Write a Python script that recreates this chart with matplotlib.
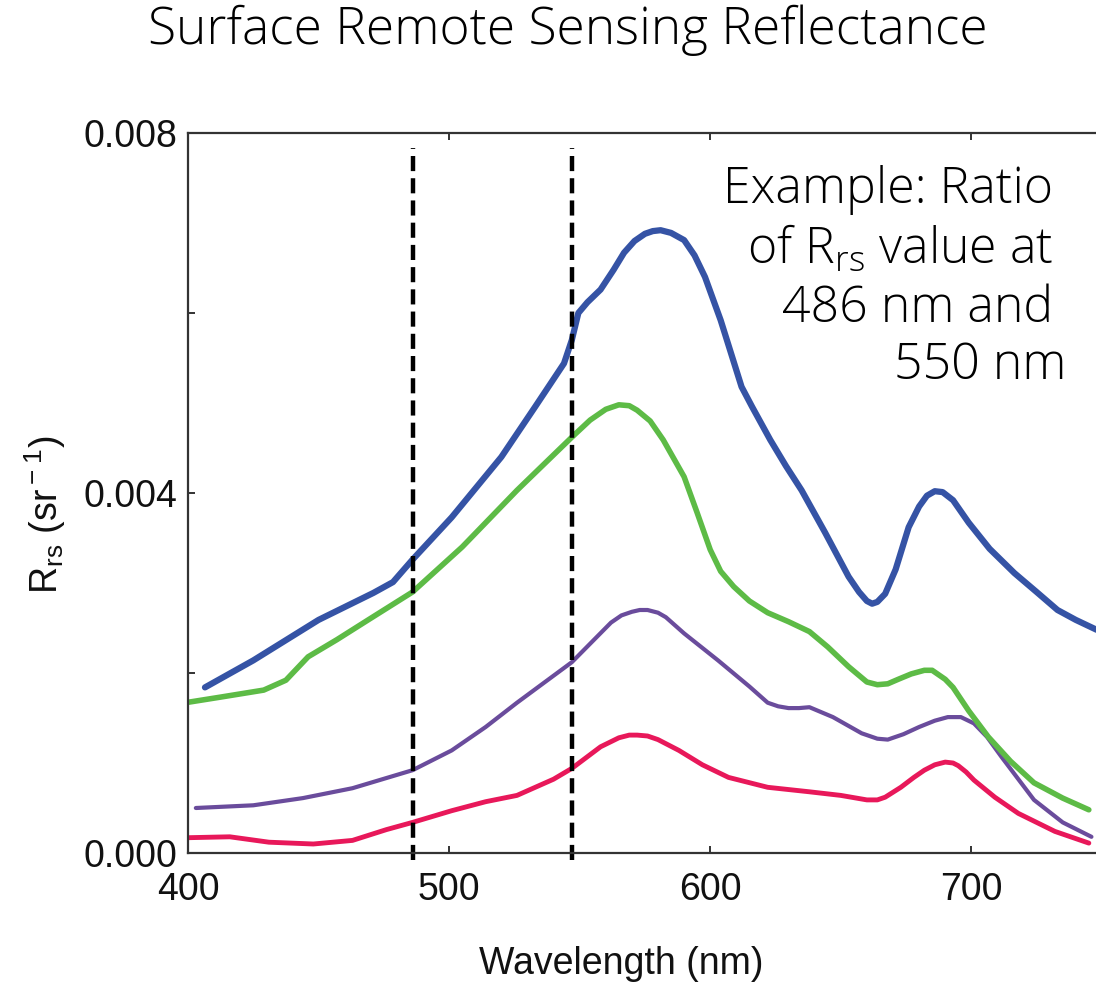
import numpy as np
import matplotlib
matplotlib.use('Agg')
import matplotlib.pyplot as plt

matplotlib.rcParams['font.family'] = ['Liberation Sans', 'DejaVu Sans']
matplotlib.rcParams['mathtext.fontset'] = 'custom'
matplotlib.rcParams['mathtext.rm'] = 'Liberation Sans'
matplotlib.rcParams['mathtext.sf'] = 'Open Sans:light'

# values (wavelength nm, Rrs sr^-1)
blue_x = [406.5, 425, 450, 471, 478.5, 486, 501, 520, 533, 544, 547, 549.5, 553, 558, 563,
          567, 571, 575, 578, 581, 585, 590, 594, 598, 604, 612, 616, 623, 629, 635, 644,
          653, 657, 660, 662, 664, 667, 671, 676, 680, 683, 686, 689, 693, 699, 707,
          716.5, 725, 733, 740, 748]
blue_y = [0.00184, 0.00214, 0.00259, 0.00289, 0.00301, 0.00326, 0.00373, 0.0044, 0.00496,
          0.00544, 0.0057, 0.006, 0.00612, 0.00626, 0.00648, 0.00667, 0.0068, 0.00688,
          0.00691, 0.00692, 0.00689, 0.00681, 0.00664, 0.0064, 0.00592, 0.00518, 0.00496,
          0.00459, 0.0043, 0.00403, 0.00356, 0.00307, 0.0029, 0.0028, 0.00277, 0.00279,
          0.00288, 0.00315, 0.00362, 0.00385, 0.00397, 0.00402, 0.00401, 0.00392, 0.00367,
          0.00338, 0.00311, 0.0029, 0.0027, 0.00259, 0.00248]

green_x = [399, 412, 429, 437.5, 446, 457, 469, 486, 505, 526, 547, 554, 560, 565, 569,
           572, 577, 582, 590, 595, 600, 604, 609, 615, 622, 630, 638, 645, 653, 660, 664,
           668, 672, 677, 682, 685, 687, 690, 693, 699, 706.5, 715, 724, 735, 745]
green_y = [0.00167, 0.00173, 0.00181, 0.00192, 0.00218, 0.00237, 0.00259, 0.0029, 0.0034,
           0.00403, 0.00462, 0.00481, 0.00493, 0.00498, 0.00497, 0.00492, 0.0048, 0.00459,
           0.00418, 0.00378, 0.00337, 0.00313, 0.00296, 0.0028, 0.00267, 0.00257, 0.00246,
           0.00229, 0.00207, 0.0019, 0.00187, 0.00188, 0.00193, 0.00199, 0.00203, 0.00203,
           0.00199, 0.00193, 0.00184, 0.00158, 0.00129, 0.00102, 0.00078, 0.00061, 0.00048]

purple_x = [403, 425, 444, 463, 486, 501, 514, 526, 547, 562, 566, 570, 573, 576, 580, 583,
            590, 603, 615, 622, 626, 630, 634, 638, 647, 658, 664, 668, 674, 680, 686, 691,
            696, 701, 706, 711.5, 718, 724, 735, 746]
purple_y = [0.0005, 0.00053, 0.00061, 0.00072, 0.00092, 0.00114, 0.0014, 0.00167, 0.00212,
            0.00256, 0.00264, 0.00268, 0.0027, 0.0027, 0.00267, 0.00262, 0.00244, 0.00214,
            0.00185, 0.00167, 0.00163, 0.00161, 0.00161, 0.00162, 0.00151, 0.00133, 0.00127,
            0.00126, 0.00132, 0.0014, 0.00147, 0.00151, 0.00151, 0.00144, 0.00129, 0.00107,
            0.00082, 0.00059, 0.00034, 0.00018]

red_x = [400, 416, 431, 448, 463, 476, 486, 501, 514, 526, 540, 547, 558, 565, 569, 572,
         576, 580, 588, 597, 607, 622, 638, 650, 660, 664, 667, 673, 678, 682, 686, 690,
         693, 695, 698, 701, 709, 718, 732, 745]
red_y = [0.00017, 0.00018, 0.00012, 0.0001, 0.00014, 0.00026, 0.00034, 0.00047, 0.00057,
         0.00064, 0.00082, 0.00094, 0.00118, 0.00128, 0.00131, 0.00131, 0.0013, 0.00126,
         0.00114, 0.00098, 0.00084, 0.00073, 0.00068, 0.00064, 0.00059, 0.00059, 0.00062,
         0.00073, 0.00084, 0.00092, 0.00098, 0.00101, 0.001, 0.00097, 0.0009, 0.00081,
         0.00062, 0.00044, 0.00024, 0.00011]

# marked bands
band_x = [486, 547]
band_top = 0.00783
band_bottom = -0.00008

x_ticks = [400, 500, 600, 700]
y_ticks = [0.000, 0.002, 0.004, 0.006, 0.008]
y_labels = ['0.000', '', '0.004', '', '0.008']

note_lines = ['Example: Ratio', 'of R$_{\\mathsf{rs}}$ value at', '486 nm and', '550 nm']

fig = plt.figure(figsize=(10.96, 9.85), dpi=100)
ax = fig.add_axes([188 / 1096, 1 - 853 / 985, 940 / 1096, 720 / 985])

ax.plot(red_x, red_y, color='#e8185a', lw=3.5, solid_capstyle='round', solid_joinstyle='round')
ax.plot(purple_x, purple_y, color='#6a4c9c', lw=3.0, solid_capstyle='round', solid_joinstyle='round')
ax.plot(green_x, green_y, color='#5dbb46', lw=4.0, solid_capstyle='round', solid_joinstyle='round')
ax.plot(blue_x, blue_y, color='#3553a5', lw=4.5, solid_capstyle='round', solid_joinstyle='round')

for bx in band_x:
    ax.plot([bx, bx], [band_bottom, band_top], color='black', lw=3.2,
            linestyle=(0, (3.4, 1.6)), clip_on=False)

ax.set_xlim(400, 760)
ax.set_ylim(0, 0.008)
ax.set_xticks(x_ticks)
ax.set_xticklabels([str(v) for v in x_ticks])
ax.set_yticks(y_ticks)
ax.set_yticklabels(y_labels)
ax.tick_params(direction='in', length=5, width=1.2, labelsize=27, top=True,
               colors='#111111', pad=8)
ax.tick_params(axis='x', pad=14)
for s in ax.spines.values():
    s.set_linewidth(1.6)
    s.set_color('#333333')

ax.set_xlabel('Wavelength (nm)', fontsize=27, color='#111111')
ax.xaxis.set_label_coords((621 - 188) / 940, -(946 - 853) / 720)
ax.set_ylabel('R$_{\\rm rs}$ (sr$^{\\rm -1}$)', fontsize=27, color='#111111')
ax.yaxis.set_label_coords(-(188 - 68) / 940, (853 - 515) / 720)

note_font = ['Open Sans', 'DejaVu Sans']
note_y = [190, 250, 309, 366]
note_right = [1053, 1053, 1053, 1066]
for txt, py, px in zip(note_lines, note_y, note_right):
    fig.text(px / 1096, 1 - py / 985, txt, ha='right', va='center', fontsize=36,
             family=note_font, fontweight='light')

fig.text(568 / 1096, 1 - 30 / 985, 'Surface Remote Sensing Reflectance', ha='center',
         va='center', fontsize=37, family=note_font, fontweight='light')

fig.savefig('out.png', dpi=100)
